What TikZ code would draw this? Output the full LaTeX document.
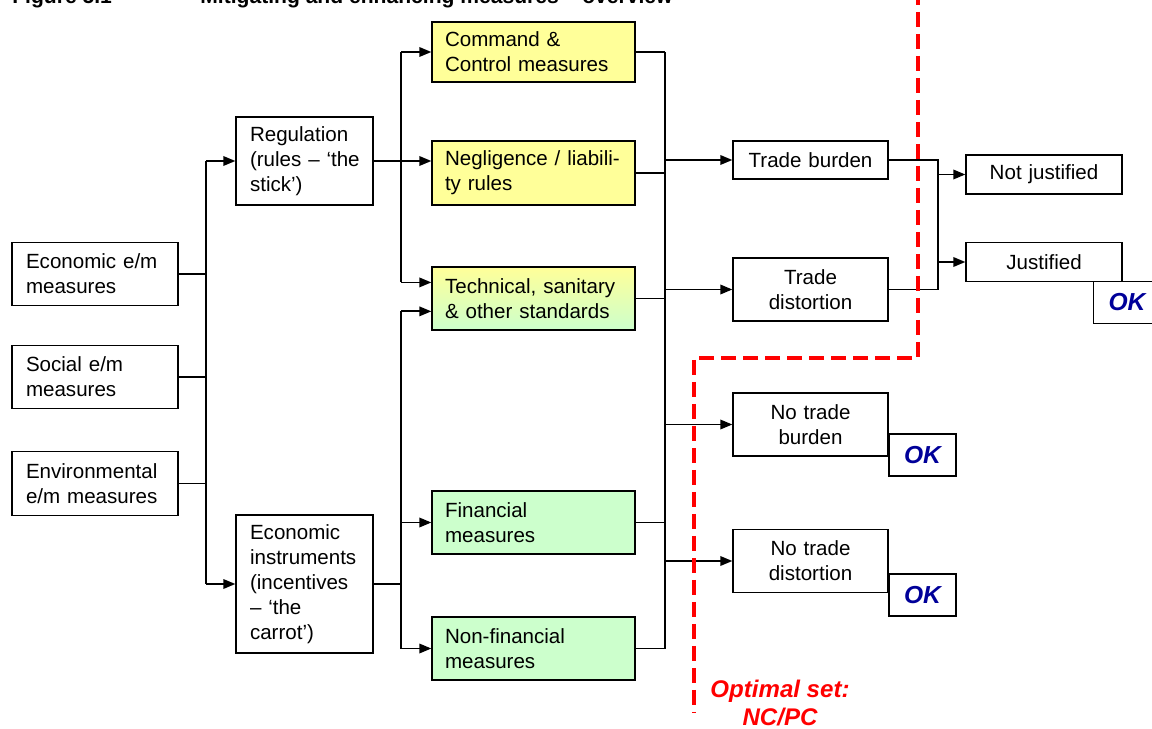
\documentclass[tikz,border=0pt]{standalone}
\usepackage{fontspec}
\setmainfont{Liberation Sans}
\usetikzlibrary{arrows.meta,calc}

\definecolor{boxyellow}{RGB}{255,255,153}
\definecolor{boxgreen}{RGB}{204,255,204}
\definecolor{okblue}{RGB}{0,0,153}
\definecolor{optred}{RGB}{255,0,0}

\tikzset{
  box/.style={draw=black, line width=0.75pt, align=left, inner xsep=0.28cm, inner ysep=0pt,
    font=\fontsize{11.7}{14.2}\selectfont},
  srcbox/.style={box, text width=2.76cm, minimum height=1.27cm},
  kindbox/.style={box, text width=2.18cm},
  measbox/.style={box, inner xsep=0.26cm, text width=3.54cm, minimum height=1.26cm},
  effbox/.style={box, align=center, text width=2.54cm, minimum height=1.26cm},
  okbox/.style={draw=black, line width=0.75pt, fill=white, minimum width=1.34cm, minimum height=0.84cm,
    font=\fontsize{14}{16}\selectfont\bfseries\itshape, text=okblue},
  arr/.style={-{Triangle[length=0.24cm,width=0.19cm]}, line width=1pt},
  link/.style={line width=1pt},
  optline/.style={draw=optred, line width=2pt, dash pattern=on 0.3cm off 0.14cm},
  optlabel/.style={align=center, text=optred, font=\fontsize{13.7}{15.9}\selectfont\bfseries\itshape},
  titletext/.style={anchor=base west, inner sep=0pt, font=\fontsize{12}{14}\selectfont\bfseries}
}

\begin{document}
\begin{tikzpicture}[x=0.02cm, y=-0.02cm]
    \useasboundingbox (0,0) rectangle (1152,729);

    \node[titletext] (fignum) at (12,4) {Figure 5.1};
    \node[titletext] (figtitle) at (200,4) {Mitigating and enhancing measures – overview};

    \node[srcbox] (econ) at (95,274) {Economic e/m\\measures};
    \node[srcbox] (social) at (95,377) {Social e/m\\measures};
    \node[srcbox] (env) at (95,483.5) {Environmental\\e/m measures};

    \node[kindbox, minimum height=1.76cm] (reg) at (304.5,161) {Regulation\\\mbox{(rules – ‘the}\\stick’)};
    \node[kindbox, minimum height=2.76cm] (ecoinst) at (304.5,584) {Economic\\instruments\\(incentives\\– ‘the\\carrot’)};

    \node[measbox, fill=boxyellow, minimum height=1.2cm] (cmd) at (533.5,52) {Command \&\\Control measures};
    \node[measbox, fill=boxyellow, minimum height=1.28cm] (negl) at (533.5,173) {Negligence / liabili-\\ty rules};
    \node[measbox, top color=boxyellow, bottom color=boxgreen] (tech) at (533.5,298.5) {Technical, sanitary\\\& other standards};
    \node[measbox, fill=boxgreen] (fin) at (533.5,522.5) {Financial\\measures};
    \node[measbox, fill=boxgreen] (nonfin) at (533.5,648.5) {Non-financial\\measures};

    \node[effbox, minimum height=0.76cm] (tburden) at (810.5,160) {Trade burden};
    \node[effbox] (tdist) at (810.5,289.5) {Trade\\distortion};
    \node[effbox] (notburden) at (810.5,424.5) {No trade\\burden};
    \node[effbox] (notdist) at (810.5,561) {No trade\\distortion};

    \node[effbox, text width=2.56cm, minimum height=0.78cm] (notjust) at (1044,174.5) {Not justified};
    \node[effbox, text width=2.56cm, minimum height=0.78cm] (just) at (1044,262) {Justified};

    \coordinate (busL) at (206,0);
    \coordinate (busM) at (401,0);
    \coordinate (busR) at (665,0);
    \coordinate (busJ) at (938,0);
    \coordinate (techA) at ($(tech.west)!0.5!(tech.north west)$);
    \coordinate (techB) at ($(tech.west)!0.4!(tech.south west)$);

    \draw[link] (econ.east) -- (econ.east -| busL);
    \draw[link] (social.east) -- (social.east -| busL);
    \draw[link] (env.east) -- (env.east -| busL);
    \draw[link] (busL |- reg.west) -- (busL |- ecoinst.west);
    \draw[arr] (busL |- reg.west) -- (reg.west);
    \draw[arr] (busL |- ecoinst.west) -- (ecoinst.west);

    \draw[link] (reg.east) -- (reg.east -| busM);
    \draw[link] (busM |- cmd.west) -- (busM |- techA);
    \draw[arr] (busM |- cmd.west) -- (cmd.west);
    \draw[arr] (reg.east -| busM) -- (reg.east -| negl.west);
    \draw[arr] (busM |- techA) -- (techA);

    \draw[link] (ecoinst.east) -- (ecoinst.east -| busM);
    \draw[link] (busM |- techB) -- (busM |- nonfin.west);
    \draw[arr] (busM |- techB) -- (techB);
    \draw[arr] (busM |- fin.west) -- (fin.west);
    \draw[arr] (busM |- nonfin.west) -- (nonfin.west);

    \foreach \m in {cmd,negl,tech,fin,nonfin}
        \draw[link] (\m.east) -- (\m.east -| busR);
    \draw[link] (busR |- cmd.east) -- (busR |- nonfin.east);
    \foreach \e in {tburden,tdist,notburden,notdist}
        \draw[arr] (busR |- \e.west) -- (\e.west);

    \draw[link] (tburden.east) -- (tburden.east -| busJ) -- (tdist.east -| busJ) -- (tdist.east);
    \draw[arr] (busJ |- notjust.west) -- (notjust.west);
    \draw[arr] (busJ |- just.west) -- (just.west);

    \node[okbox] (okjust) at (1127,302.5) {OK};
    \node[okbox] (okburden) at (922.5,455) {OK};
    \node[okbox] (okdist) at (922.5,595) {OK};

    \draw[optline] (918,-10) -- (918,358) -- (694,358) -- (694,712);
    \node[optlabel] (optset) at (780,703) {Optimal set:\\NC/PC};
\end{tikzpicture}
\end{document}
